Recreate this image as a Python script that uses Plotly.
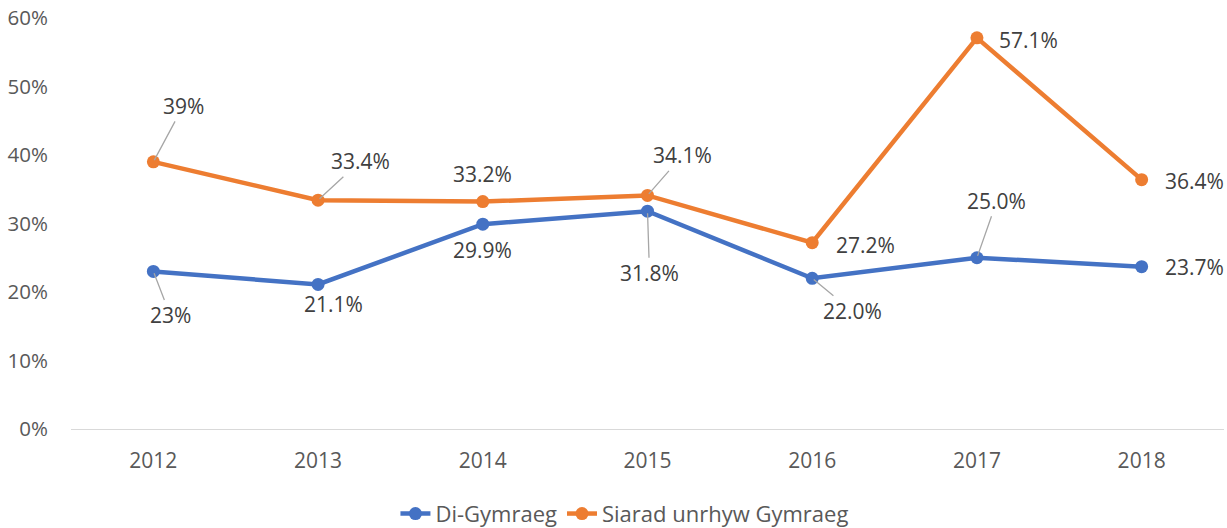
import plotly.graph_objects as go

years = [2012, 2013, 2014, 2015, 2016, 2017, 2018]
di_gymraeg = [23.0, 21.1, 29.9, 31.8, 22.0, 25.0, 23.7]
siarad = [39.0, 33.4, 33.2, 34.1, 27.2, 57.1, 36.4]
di_labels = ["23%", "21.1%", "29.9%", "31.8%", "22.0%", "25.0%", "23.7%"]
siarad_labels = ["39%", "33.4%", "33.2%", "34.1%", "27.2%", "57.1%", "36.4%"]
series_names = ["Di-Gymraeg", "Siarad unrhyw Gymraeg"]
tick_vals = [0, 10, 20, 30, 40, 50, 60]
tick_text = ["0%", "10%", "20%", "30%", "40%", "50%", "60%"]
year_text = ["2012", "2013", "2014", "2015", "2016", "2017", "2018"]

BLUE = "#4472C4"
ORANGE = "#ED7D31"
FONT = "Open Sans"

fig = go.Figure()
fig.add_trace(go.Scatter(x=years, y=di_gymraeg, name=series_names[0], mode="lines+markers",
                         line=dict(color=BLUE, width=4.5), marker=dict(size=13, color=BLUE)))
fig.add_trace(go.Scatter(x=years, y=siarad, name=series_names[1], mode="lines+markers",
                         line=dict(color=ORANGE, width=4.5), marker=dict(size=13, color=ORANGE)))

# label offsets (pixels) and whether a leader line is shown
di_off = [(17, 44, True), (15, 20, False), (0, 26, False), (2, 62, True), (40, 33, True), (20, -57, True), (53, 0, False)]
si_off = [(30, -56, True), (42, -39, True), (0, -28, False), (35, -40, True), (53, 2, False), (52, 2, False), (53, 1, False)]

annotations = []
for vals, labels, offs in [(di_gymraeg, di_labels, di_off), (siarad, siarad_labels, si_off)]:
    for yr, v, lab, (dx, dy, leader) in zip(years, vals, labels, offs):
        if leader:
            annotations.append(dict(x=yr, y=v, xref="x", yref="y", text=lab, showarrow=True, arrowhead=0,
                                    arrowwidth=1.3, arrowcolor="#A6A6A6", ax=dx, ay=dy,
                                    standoff=2, font=dict(family=FONT, size=21, color="#404040")))
        else:
            annotations.append(dict(x=yr, y=v, xref="x", yref="y", text=lab, showarrow=False,
                                    xshift=dx, yshift=-dy,
                                    font=dict(family=FONT, size=21, color="#404040")))

fig.update_layout(
    width=1227, height=528,
    margin=dict(l=71, r=3, t=16, b=99),
    paper_bgcolor="white", plot_bgcolor="white",
    font=dict(family=FONT, size=21, color="#595959"),
    xaxis=dict(range=[2011.5, 2018.5], tickvals=years, ticktext=year_text,
               showgrid=False, zeroline=False, showline=True,
               linecolor="#D9D9D9", linewidth=1.3, ticks="", ticklabelstandoff=13,
               tickfont=dict(size=21, color="#595959")),
    yaxis=dict(range=[0, 60], tickvals=tick_vals, ticktext=tick_text, showgrid=False,
               zeroline=False, showline=False, ticks="", ticklabelstandoff=22,
               tickfont=dict(size=20.5, color="#595959")),
    legend=dict(orientation="h", x=0.48, xanchor="center", yref="container", y=0.027,
                yanchor="middle", font=dict(size=22, color="#595959")),
    annotations=annotations,
    showlegend=True,
)

fig.write_html("out.html", config={"displayModeBar": False},
               post_script="document.body.style.margin='0';document.body.style.padding='0';")
